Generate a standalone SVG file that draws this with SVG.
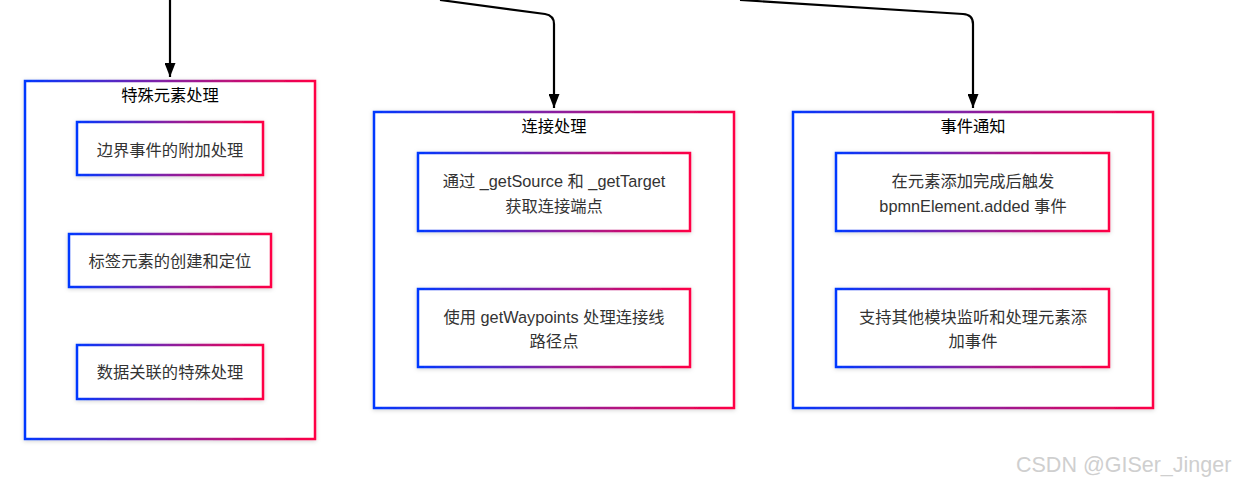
<svg xmlns="http://www.w3.org/2000/svg" width="1239" height="483" viewBox="0 0 1239 483">
  <style>
    .box { fill: #ffffff; stroke: url(#grad); stroke-width: 2.5; filter: url(#shadow); }
    .title { font-family: "Liberation Sans", "Noto Sans CJK SC", sans-serif; font-size: 16.3px; fill: #000; text-anchor: middle; }
    .txt { font-family: "Liberation Sans", "Noto Sans CJK SC", sans-serif; font-size: 16.3px; fill: #333; text-anchor: middle; }
    .edge { fill: none; stroke: #000; stroke-width: 2.2; marker-end: url(#arrow); }
    .wm { font-family: "Liberation Sans", "Noto Sans", sans-serif; font-size: 21.5px; fill: #cfcfcf; }
  </style>
  <defs>
    <linearGradient id="grad" x1="0" y1="0" x2="1" y2="0">
      <stop offset="0" stop-color="#0038ff"/>
      <stop offset="0.5" stop-color="#8a1fa0"/>
      <stop offset="1" stop-color="#ff0045"/>
    </linearGradient>
    <filter id="shadow" x="-10%" y="-10%" width="120%" height="120%">
      <feDropShadow dx="0" dy="1" stdDeviation="2" flood-color="#000" flood-opacity="0.18"/>
    </filter>
    <marker id="arrow" viewBox="0 0 14 11" refX="14" refY="5.5" markerWidth="14" markerHeight="11" markerUnits="userSpaceOnUse" orient="auto">
      <path d="M0,0 L14,5.5 L0,11 z" fill="#000"/>
    </marker>
  </defs>
  <rect width="1239" height="483" fill="#ffffff"/>

  <g id="connectors">
    <path class="edge" d="M170,0 L170,77"/>
    <path class="edge" d="M440,0 L545,14 Q554,15.5 554,24 L554,108"/>
    <path class="edge" d="M740,0 L963,14 Q973,14.5 973,24 L973,108"/>
  </g>

  <g id="special">
    <rect class="box" x="25" y="81" width="290" height="358"/>
    <text class="title" x="170" y="101">特殊元素处理</text>
    <g id="special-1">
      <rect class="box" x="77" y="122" width="186" height="53"/>
      <text class="txt" x="170" y="156">边界事件的附加处理</text>
    </g>
    <g id="special-2">
      <rect class="box" x="69" y="234" width="202" height="53"/>
      <text class="txt" x="170" y="267">标签元素的创建和定位</text>
    </g>
    <g id="special-3">
      <rect class="box" x="77" y="345" width="186" height="54"/>
      <text class="txt" x="170" y="378">数据关联的特殊处理</text>
    </g>
  </g>

  <g id="connection">
    <rect class="box" x="374" y="112" width="360" height="296"/>
    <text class="title" x="554" y="132">连接处理</text>
    <g id="connection-1">
      <rect class="box" x="418" y="153" width="272" height="78"/>
      <text class="txt" x="554" y="187">通过 _getSource 和 _getTarget</text>
      <text class="txt" x="554" y="212">获取连接端点</text>
    </g>
    <g id="connection-2">
      <rect class="box" x="418" y="289" width="272" height="78"/>
      <text class="txt" x="554" y="323">使用 getWaypoints 处理连接线</text>
      <text class="txt" x="554" y="347">路径点</text>
    </g>
  </g>

  <g id="event">
    <rect class="box" x="793" y="112" width="360" height="296"/>
    <text class="title" x="973" y="132">事件通知</text>
    <g id="event-1">
      <rect class="box" x="836" y="153" width="273" height="78"/>
      <text class="txt" x="973" y="187">在元素添加完成后触发</text>
      <text class="txt" x="973" y="212">bpmnElement.added 事件</text>
    </g>
    <g id="event-2">
      <rect class="box" x="836" y="289" width="273" height="78"/>
      <text class="txt" x="973" y="323">支持其他模块监听和处理元素添</text>
      <text class="txt" x="973" y="347">加事件</text>
    </g>
  </g>

  <text class="wm" x="1016" y="472">CSDN @GISer_Jinger</text>
</svg>
